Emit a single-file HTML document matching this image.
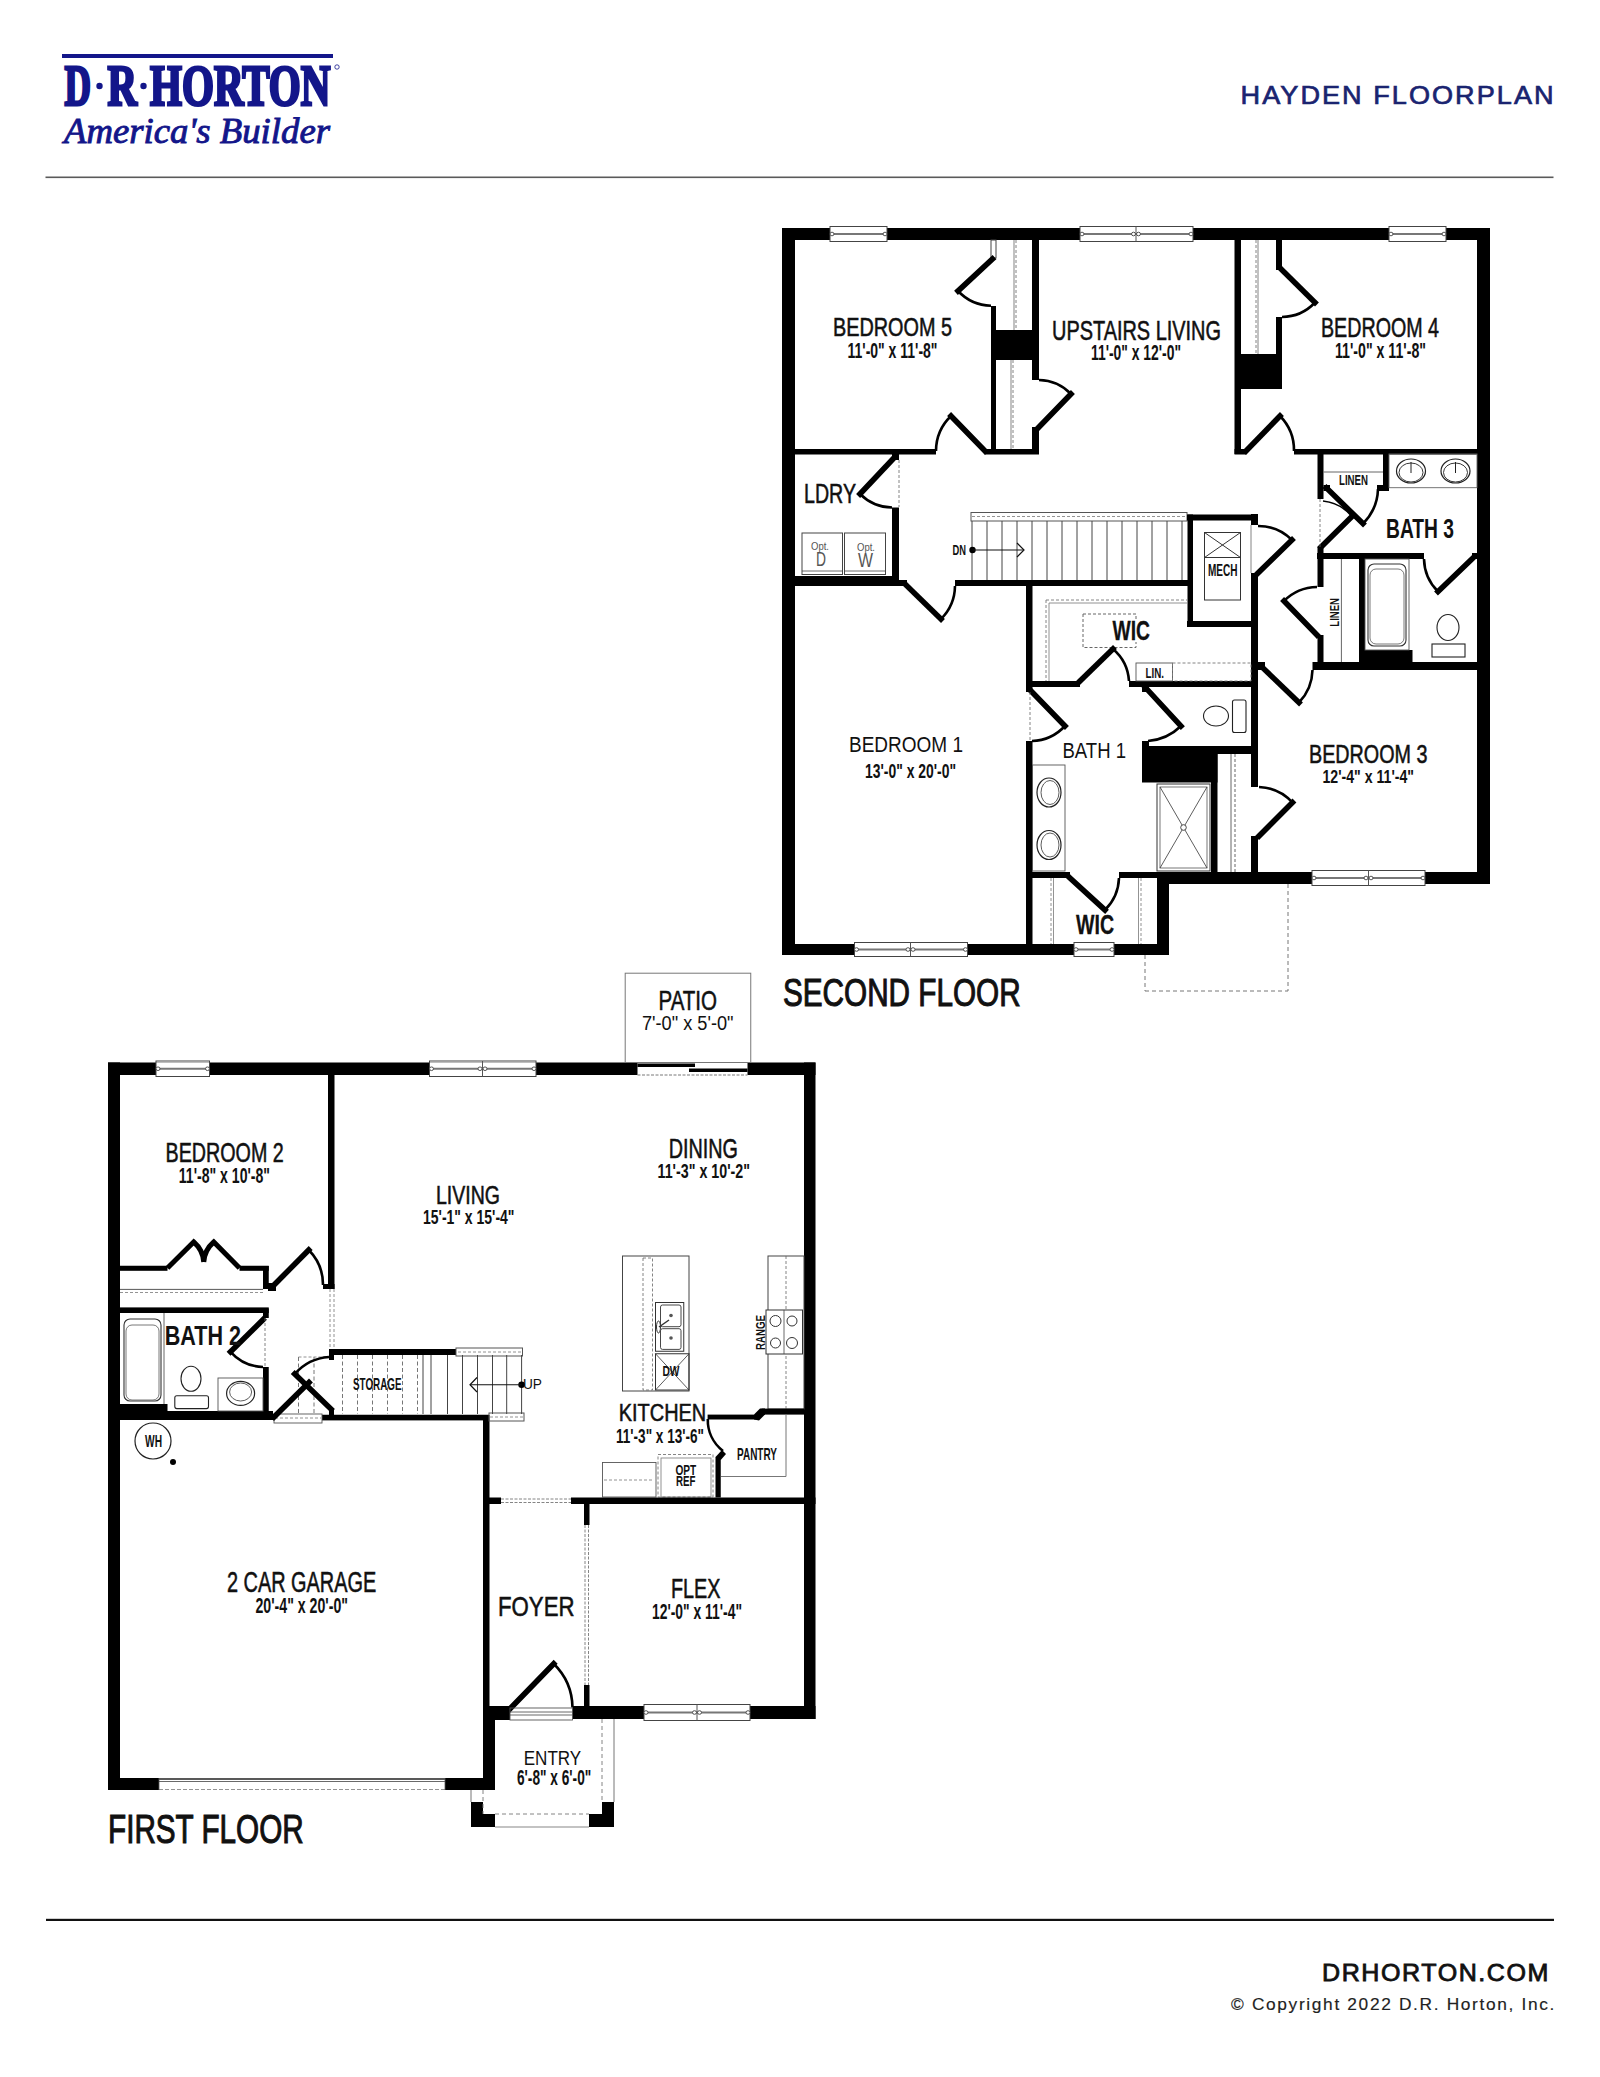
<!DOCTYPE html>
<html><head><meta charset="utf-8"><style>
html,body{margin:0;padding:0;background:#fff;}
body{width:1600px;height:2077px;overflow:hidden;position:relative;}
svg{position:absolute;left:0;top:0;}
</style></head><body>
<svg width="1600" height="2077" viewBox="0 0 1600 2077">
<rect x="0" y="0" width="1600" height="2077" fill="#fff"/>
<!-- header -->
<rect x="62" y="54" width="271" height="4" fill="#13168a"/>
<g fill="#13168a" stroke="#13168a" stroke-width="3" stroke-linejoin="miter" font-family="Liberation Serif" font-weight="bold" font-size="57">
<text x="64.5" y="105" textLength="26.5" lengthAdjust="spacingAndGlyphs">D</text>
<text x="107.5" y="105" textLength="29.5" lengthAdjust="spacingAndGlyphs">R</text>
<text x="150" y="105" textLength="180.5" lengthAdjust="spacingAndGlyphs">HORTON</text>
</g>
<circle cx="99.5" cy="86" r="3.2" fill="#13168a"/>
<circle cx="143.5" cy="86" r="3.2" fill="#13168a"/>
<circle cx="337" cy="67" r="2.2" fill="none" stroke="#13168a" stroke-width="0.8"/>
<text x="64" y="143" font-family="Liberation Serif" font-style="italic" font-size="35" fill="#13168a" stroke="#13168a" stroke-width="0.9" textLength="266" lengthAdjust="spacingAndGlyphs">America's Builder</text>
<text x="1240.6" y="103.6" font-family="Liberation Sans" font-size="26.5" fill="#1a2470" stroke="#1a2470" stroke-width="0.7" letter-spacing="2" textLength="315" lengthAdjust="spacingAndGlyphs">HAYDEN FLOORPLAN</text>
<rect x="45.5" y="176.5" width="1508" height="1.6" fill="#5a5a5a"/>
<rect x="46" y="1918.8" width="1508" height="2.2" fill="#111"/>
<text x="1322" y="1980.6" font-family="Liberation Sans" font-size="24" fill="#111" stroke="#111" stroke-width="0.8" letter-spacing="1.5" textLength="228" lengthAdjust="spacingAndGlyphs">DRHORTON.COM</text>
<text x="1231" y="2009.7" font-family="Liberation Sans" font-size="16.8" fill="#222" stroke="#222" stroke-width="0.15" letter-spacing="1.6" textLength="325" lengthAdjust="spacingAndGlyphs">© Copyright 2022 D.R. Horton, Inc.</text>
<rect x="782.00" y="228.00" width="708.00" height="12.00" fill="#000"/>
<rect x="782.00" y="228.00" width="13.00" height="727.00" fill="#000"/>
<rect x="782.00" y="944.00" width="387.00" height="11.00" fill="#000"/>
<rect x="1157.00" y="872.00" width="12.00" height="83.00" fill="#000"/>
<rect x="1157.00" y="872.00" width="333.00" height="12.00" fill="#000"/>
<rect x="1477.00" y="228.00" width="13.00" height="656.00" fill="#000"/>
<rect x="830.00" y="228.00" width="57.00" height="12.00" fill="#fff"/>
<rect x="830.00" y="226.50" width="57.00" height="15.00" fill="none" stroke="#444" stroke-width="1"/>
<line x1="832.00" y1="234.00" x2="885.00" y2="234.00" stroke="#777" stroke-width="1.8" stroke-linecap="butt"/>
<ellipse cx="832.00" cy="234.00" rx="2" ry="1.8" fill="#fff" stroke="#444" stroke-width="0.9"/>
<ellipse cx="885.00" cy="234.00" rx="2" ry="1.8" fill="#fff" stroke="#444" stroke-width="0.9"/>
<rect x="1080.00" y="228.00" width="113.00" height="12.00" fill="#fff"/>
<rect x="1080.00" y="226.50" width="113.00" height="15.00" fill="none" stroke="#444" stroke-width="1"/>
<line x1="1082.00" y1="234.00" x2="1191.00" y2="234.00" stroke="#777" stroke-width="1.8" stroke-linecap="butt"/>
<ellipse cx="1082.00" cy="234.00" rx="2" ry="1.8" fill="#fff" stroke="#444" stroke-width="0.9"/>
<ellipse cx="1191.00" cy="234.00" rx="2" ry="1.8" fill="#fff" stroke="#444" stroke-width="0.9"/>
<ellipse cx="1133.50" cy="234.00" rx="2" ry="1.8" fill="#fff" stroke="#444" stroke-width="0.9"/>
<ellipse cx="1138.50" cy="234.00" rx="2" ry="1.8" fill="#fff" stroke="#444" stroke-width="0.9"/>
<line x1="1136.00" y1="226.50" x2="1136.00" y2="241.50" stroke="#555" stroke-width="1" stroke-linecap="butt"/>
<rect x="1389.00" y="228.00" width="57.00" height="12.00" fill="#fff"/>
<rect x="1389.00" y="226.50" width="57.00" height="15.00" fill="none" stroke="#444" stroke-width="1"/>
<line x1="1391.00" y1="234.00" x2="1444.00" y2="234.00" stroke="#777" stroke-width="1.8" stroke-linecap="butt"/>
<ellipse cx="1391.00" cy="234.00" rx="2" ry="1.8" fill="#fff" stroke="#444" stroke-width="0.9"/>
<ellipse cx="1444.00" cy="234.00" rx="2" ry="1.8" fill="#fff" stroke="#444" stroke-width="0.9"/>
<rect x="854.50" y="944.00" width="113.00" height="11.00" fill="#fff"/>
<rect x="854.50" y="942.50" width="113.00" height="14.00" fill="none" stroke="#444" stroke-width="1"/>
<line x1="856.50" y1="949.50" x2="965.50" y2="949.50" stroke="#777" stroke-width="1.8" stroke-linecap="butt"/>
<ellipse cx="856.50" cy="949.50" rx="2" ry="1.8" fill="#fff" stroke="#444" stroke-width="0.9"/>
<ellipse cx="965.50" cy="949.50" rx="2" ry="1.8" fill="#fff" stroke="#444" stroke-width="0.9"/>
<ellipse cx="908.00" cy="949.50" rx="2" ry="1.8" fill="#fff" stroke="#444" stroke-width="0.9"/>
<ellipse cx="913.00" cy="949.50" rx="2" ry="1.8" fill="#fff" stroke="#444" stroke-width="0.9"/>
<line x1="910.50" y1="942.50" x2="910.50" y2="956.50" stroke="#555" stroke-width="1" stroke-linecap="butt"/>
<rect x="1074.00" y="944.00" width="40.00" height="11.00" fill="#fff"/>
<rect x="1074.00" y="942.50" width="40.00" height="14.00" fill="none" stroke="#444" stroke-width="1"/>
<line x1="1076.00" y1="949.50" x2="1112.00" y2="949.50" stroke="#777" stroke-width="1.8" stroke-linecap="butt"/>
<ellipse cx="1076.00" cy="949.50" rx="2" ry="1.8" fill="#fff" stroke="#444" stroke-width="0.9"/>
<ellipse cx="1112.00" cy="949.50" rx="2" ry="1.8" fill="#fff" stroke="#444" stroke-width="0.9"/>
<rect x="1312.00" y="872.00" width="113.00" height="12.00" fill="#fff"/>
<rect x="1312.00" y="870.50" width="113.00" height="15.00" fill="none" stroke="#444" stroke-width="1"/>
<line x1="1314.00" y1="878.00" x2="1423.00" y2="878.00" stroke="#777" stroke-width="1.8" stroke-linecap="butt"/>
<ellipse cx="1314.00" cy="878.00" rx="2" ry="1.8" fill="#fff" stroke="#444" stroke-width="0.9"/>
<ellipse cx="1423.00" cy="878.00" rx="2" ry="1.8" fill="#fff" stroke="#444" stroke-width="0.9"/>
<ellipse cx="1366.00" cy="878.00" rx="2" ry="1.8" fill="#fff" stroke="#444" stroke-width="0.9"/>
<ellipse cx="1371.00" cy="878.00" rx="2" ry="1.8" fill="#fff" stroke="#444" stroke-width="0.9"/>
<line x1="1368.50" y1="870.50" x2="1368.50" y2="885.50" stroke="#555" stroke-width="1" stroke-linecap="butt"/>
<rect x="795.00" y="449.00" width="141.00" height="5.50" fill="#000"/>
<rect x="985.00" y="449.00" width="54.00" height="5.50" fill="#000"/>
<rect x="991.00" y="306.00" width="5.00" height="148.00" fill="#000"/>
<rect x="1032.00" y="240.00" width="7.00" height="140.00" fill="#000"/>
<rect x="1032.00" y="427.00" width="7.00" height="27.00" fill="#000"/>
<rect x="991.00" y="330.00" width="48.00" height="30.00" fill="#000"/>
<rect x="991.00" y="240.00" width="5.00" height="18.00" fill="none" stroke="#444" stroke-width="1"/>
<line x1="1016.00" y1="240.00" x2="1016.00" y2="330.00" stroke="#666" stroke-width="0.8" stroke-linecap="butt" stroke-dasharray="3,2"/>
<line x1="1014.00" y1="240.00" x2="1014.00" y2="330.00" stroke="#666" stroke-width="0.8" stroke-linecap="butt"/>
<line x1="1013.00" y1="360.00" x2="1013.00" y2="449.00" stroke="#666" stroke-width="0.8" stroke-linecap="butt" stroke-dasharray="3,2"/>
<line x1="1011.00" y1="360.00" x2="1011.00" y2="449.00" stroke="#666" stroke-width="0.8" stroke-linecap="butt"/>
<line x1="992.50" y1="259.00" x2="958.00" y2="291.00" stroke="#000" stroke-width="5.5" stroke-linecap="square"/>
<path d="M958.00,291.00 A47.06,47.06 0 0 0 991.00,305.75" fill="none" stroke="#000" stroke-width="2.6"/>
<line x1="1039.00" y1="427.00" x2="1071.00" y2="394.00" stroke="#000" stroke-width="5.5" stroke-linecap="square"/>
<path d="M1071.00,394.00 A45.97,45.97 0 0 0 1039.00,380.00" fill="none" stroke="#000" stroke-width="2.6"/>
<line x1="985.00" y1="451.00" x2="951.00" y2="416.00" stroke="#000" stroke-width="5.5" stroke-linecap="square"/>
<path d="M951.00,416.00 A48.80,48.80 0 0 0 936.00,451.00" fill="none" stroke="#000" stroke-width="2.6"/>
<rect x="1234.50" y="240.00" width="6.50" height="214.00" fill="#000"/>
<rect x="1276.00" y="240.00" width="6.00" height="30.00" fill="#000"/>
<rect x="1276.00" y="317.00" width="6.00" height="72.00" fill="#000"/>
<rect x="1241.00" y="354.00" width="41.00" height="35.00" fill="#000"/>
<line x1="1256.00" y1="240.00" x2="1256.00" y2="354.00" stroke="#666" stroke-width="0.8" stroke-linecap="butt" stroke-dasharray="3,2"/>
<line x1="1258.00" y1="240.00" x2="1258.00" y2="354.00" stroke="#666" stroke-width="0.8" stroke-linecap="butt"/>
<line x1="1282.00" y1="270.00" x2="1315.00" y2="302.50" stroke="#000" stroke-width="5.5" stroke-linecap="square"/>
<path d="M1315.00,302.50 A46.32,46.32 0 0 1 1282.00,317.00" fill="none" stroke="#000" stroke-width="2.6"/>
<rect x="1234.50" y="449.00" width="11.50" height="5.50" fill="#000"/>
<rect x="1294.00" y="449.00" width="184.00" height="5.50" fill="#000"/>
<line x1="1246.00" y1="451.00" x2="1280.00" y2="416.00" stroke="#000" stroke-width="5.5" stroke-linecap="square"/>
<path d="M1280.00,416.00 A48.80,48.80 0 0 1 1294.00,451.00" fill="none" stroke="#000" stroke-width="2.6"/>
<rect x="1317.50" y="454.00" width="6.00" height="45.00" fill="#000"/>
<rect x="1323.50" y="485.00" width="6.50" height="6.00" fill="#000"/>
<rect x="1383.00" y="454.00" width="6.00" height="37.00" fill="#000"/>
<rect x="1377.00" y="485.00" width="6.00" height="6.00" fill="#000"/>
<line x1="1323.50" y1="472.00" x2="1383.00" y2="472.00" stroke="#555" stroke-width="0.9" stroke-linecap="butt"/>
<rect x="1389.00" y="454.00" width="88.00" height="33.70" fill="none" stroke="#666" stroke-width="0.9"/>
<ellipse cx="1411" cy="471" rx="14.5" ry="12" fill="none" stroke="#222" stroke-width="1.2"/>
<ellipse cx="1411" cy="472.5" rx="12" ry="9.5" fill="none" stroke="#222" stroke-width="0.9"/>
<line x1="1411.00" y1="462.00" x2="1411.00" y2="473.00" stroke="#222" stroke-width="1" stroke-linecap="butt"/>
<ellipse cx="1455.5" cy="471" rx="14.5" ry="12" fill="none" stroke="#222" stroke-width="1.2"/>
<ellipse cx="1455.5" cy="472.5" rx="12" ry="9.5" fill="none" stroke="#222" stroke-width="0.9"/>
<line x1="1455.50" y1="462.00" x2="1455.50" y2="473.00" stroke="#222" stroke-width="1" stroke-linecap="butt"/>
<line x1="1326.50" y1="488.00" x2="1363.00" y2="523.60" stroke="#000" stroke-width="5.5" stroke-linecap="square"/>
<path d="M1363.00,523.60 A50.99,50.99 0 0 0 1378.00,489.00" fill="none" stroke="#000" stroke-width="2.6"/>
<line x1="1321.00" y1="547.00" x2="1352.00" y2="516.50" stroke="#000" stroke-width="5.5" stroke-linecap="square"/>
<path d="M1352.00,516.50 A43.49,43.49 0 0 0 1323.00,501.00" fill="none" stroke="#000" stroke-width="1.6"/>
<line x1="1320.00" y1="499.00" x2="1320.00" y2="547.00" stroke="#666" stroke-width="0.8" stroke-linecap="butt" stroke-dasharray="3,2"/>
<rect x="1317.00" y="553.00" width="107.00" height="6.00" fill="#000"/>
<rect x="1472.00" y="553.00" width="6.00" height="6.00" fill="#000"/>
<line x1="1472.00" y1="559.00" x2="1438.00" y2="591.50" stroke="#000" stroke-width="5.5" stroke-linecap="square"/>
<path d="M1438.00,591.50 A47.03,47.03 0 0 1 1424.00,559.00" fill="none" stroke="#000" stroke-width="2.6"/>
<rect x="1317.50" y="547.00" width="6.00" height="40.00" fill="#000"/>
<rect x="1317.50" y="635.00" width="6.00" height="34.00" fill="#000"/>
<line x1="1317.00" y1="635.00" x2="1284.00" y2="601.00" stroke="#000" stroke-width="5.5" stroke-linecap="square"/>
<path d="M1284.00,601.00 A47.38,47.38 0 0 1 1317.00,587.00" fill="none" stroke="#000" stroke-width="2.6"/>
<rect x="1359.00" y="559.00" width="6.00" height="91.00" fill="#000"/>
<line x1="1341.40" y1="559.00" x2="1341.40" y2="662.00" stroke="#555" stroke-width="0.9" stroke-linecap="butt"/>
<rect x="1359.00" y="650.00" width="53.50" height="19.00" fill="#000"/>
<rect x="1365.00" y="559.00" width="44.00" height="91.00" fill="none" stroke="#555" stroke-width="0.9"/>
<rect x="1368" y="564" width="38" height="82" rx="6" fill="none" stroke="#333" stroke-width="1.1"/>
<rect x="1370" y="569" width="34" height="75" rx="6" fill="none" stroke="#555" stroke-width="0.8"/>
<ellipse cx="1448" cy="627.5" rx="11" ry="13" fill="none" stroke="#222" stroke-width="1.1"/>
<rect x="1432.00" y="644.00" width="33.00" height="13.00" fill="none" stroke="#222" stroke-width="1.1"/>
<rect x="1312.50" y="662.00" width="165.50" height="8.00" fill="#000"/>
<rect x="1251.00" y="662.00" width="14.00" height="8.00" fill="#000"/>
<rect x="892.00" y="454.00" width="7.00" height="6.00" fill="#000"/>
<rect x="892.00" y="507.50" width="7.00" height="78.50" fill="#000"/>
<line x1="892.00" y1="460.00" x2="860.00" y2="494.00" stroke="#000" stroke-width="5.5" stroke-linecap="square"/>
<path d="M860.00,494.00 A46.69,46.69 0 0 0 892.00,507.50" fill="none" stroke="#000" stroke-width="2.6"/>
<line x1="899.00" y1="460.00" x2="899.00" y2="507.00" stroke="#666" stroke-width="0.8" stroke-linecap="butt" stroke-dasharray="3,2"/>
<rect x="802.00" y="533.00" width="40.50" height="41.50" fill="none" stroke="#444" stroke-width="1"/>
<rect x="844.50" y="533.00" width="41.00" height="41.50" fill="none" stroke="#444" stroke-width="1"/>
<line x1="802.00" y1="571.00" x2="842.50" y2="571.00" stroke="#444" stroke-width="0.8" stroke-linecap="butt"/>
<line x1="844.50" y1="571.00" x2="885.50" y2="571.00" stroke="#444" stroke-width="0.8" stroke-linecap="butt"/>
<text x="811.00" y="550.20" font-family="Liberation Sans" font-weight="normal" font-size="11.14" fill="#555" textLength="18.00" lengthAdjust="spacingAndGlyphs">Opt.</text>
<text x="816.00" y="566.20" font-family="Liberation Sans" font-weight="normal" font-size="21.14" fill="#555" textLength="10.00" lengthAdjust="spacingAndGlyphs">D</text>
<text x="857.00" y="551.20" font-family="Liberation Sans" font-weight="normal" font-size="11.14" fill="#555" textLength="18.00" lengthAdjust="spacingAndGlyphs">Opt.</text>
<text x="858.00" y="567.20" font-family="Liberation Sans" font-weight="normal" font-size="21.14" fill="#555" textLength="15.00" lengthAdjust="spacingAndGlyphs">W</text>
<rect x="795.00" y="576.00" width="104.00" height="10.00" fill="#000"/>
<rect x="899.00" y="580.00" width="8.00" height="6.00" fill="#000"/>
<rect x="955.00" y="580.00" width="235.00" height="6.00" fill="#000"/>
<line x1="907.00" y1="586.00" x2="941.00" y2="619.00" stroke="#000" stroke-width="5.5" stroke-linecap="square"/>
<path d="M941.00,619.00 A47.38,47.38 0 0 0 955.00,586.00" fill="none" stroke="#000" stroke-width="2.6"/>
<rect x="971.00" y="512.50" width="216.00" height="8.50" fill="none" stroke="#555" stroke-width="1"/>
<line x1="972.00" y1="516.50" x2="1186.00" y2="516.50" stroke="#777" stroke-width="0.8" stroke-linecap="butt" stroke-dasharray="3,2"/>
<line x1="972.00" y1="521.00" x2="972.00" y2="580.00" stroke="#444" stroke-width="1" stroke-linecap="butt"/>
<line x1="987.00" y1="521.00" x2="987.00" y2="580.00" stroke="#444" stroke-width="1" stroke-linecap="butt"/>
<line x1="1002.00" y1="521.00" x2="1002.00" y2="580.00" stroke="#444" stroke-width="1" stroke-linecap="butt"/>
<line x1="1017.00" y1="521.00" x2="1017.00" y2="580.00" stroke="#444" stroke-width="1" stroke-linecap="butt"/>
<line x1="1032.00" y1="521.00" x2="1032.00" y2="580.00" stroke="#444" stroke-width="1" stroke-linecap="butt"/>
<line x1="1047.00" y1="521.00" x2="1047.00" y2="580.00" stroke="#444" stroke-width="1" stroke-linecap="butt"/>
<line x1="1062.00" y1="521.00" x2="1062.00" y2="580.00" stroke="#444" stroke-width="1" stroke-linecap="butt"/>
<line x1="1077.00" y1="521.00" x2="1077.00" y2="580.00" stroke="#444" stroke-width="1" stroke-linecap="butt"/>
<line x1="1092.00" y1="521.00" x2="1092.00" y2="580.00" stroke="#444" stroke-width="1" stroke-linecap="butt"/>
<line x1="1107.00" y1="521.00" x2="1107.00" y2="580.00" stroke="#444" stroke-width="1" stroke-linecap="butt"/>
<line x1="1122.00" y1="521.00" x2="1122.00" y2="580.00" stroke="#444" stroke-width="1" stroke-linecap="butt"/>
<line x1="1137.00" y1="521.00" x2="1137.00" y2="580.00" stroke="#444" stroke-width="1" stroke-linecap="butt"/>
<line x1="1152.00" y1="521.00" x2="1152.00" y2="580.00" stroke="#444" stroke-width="1" stroke-linecap="butt"/>
<line x1="1167.00" y1="521.00" x2="1167.00" y2="580.00" stroke="#444" stroke-width="1" stroke-linecap="butt"/>
<line x1="1182.00" y1="521.00" x2="1182.00" y2="580.00" stroke="#444" stroke-width="1" stroke-linecap="butt"/>
<circle cx="972.5" cy="550" r="3.2" fill="#000"/>
<line x1="972.50" y1="550.00" x2="1023.00" y2="550.00" stroke="#111" stroke-width="1.2" stroke-linecap="butt"/>
<path d="M1017,543 L1024,550 L1017,557" fill="none" stroke="#111" stroke-width="1.2"/>
<text x="952.50" y="555.20" font-family="Liberation Sans" font-weight="bold" font-size="15.43" fill="#111" textLength="13.50" lengthAdjust="spacingAndGlyphs">DN</text>
<rect x="1187.50" y="514.50" width="5.50" height="112.50" fill="#000"/>
<rect x="1187.00" y="514.50" width="71.00" height="6.00" fill="#000"/>
<rect x="1251.00" y="514.00" width="7.00" height="11.00" fill="#000"/>
<rect x="1251.00" y="573.00" width="7.00" height="214.00" fill="#000"/>
<rect x="1251.00" y="836.00" width="7.00" height="36.00" fill="#000"/>
<rect x="1187.00" y="621.00" width="71.00" height="6.00" fill="#000"/>
<rect x="1204.50" y="532.50" width="36.00" height="67.50" fill="none" stroke="#333" stroke-width="1"/>
<line x1="1204.50" y1="557.50" x2="1240.50" y2="557.50" stroke="#333" stroke-width="1" stroke-linecap="butt"/>
<line x1="1204.50" y1="532.50" x2="1240.50" y2="557.50" stroke="#333" stroke-width="1" stroke-linecap="butt"/>
<line x1="1240.50" y1="532.50" x2="1204.50" y2="557.50" stroke="#333" stroke-width="1" stroke-linecap="butt"/>
<line x1="1251.00" y1="525.00" x2="1251.00" y2="573.00" stroke="#666" stroke-width="0.8" stroke-linecap="butt"/>
<line x1="1258.00" y1="573.00" x2="1292.00" y2="540.00" stroke="#000" stroke-width="5.5" stroke-linecap="square"/>
<path d="M1292.00,540.00 A47.38,47.38 0 0 0 1258.00,526.00" fill="none" stroke="#000" stroke-width="2.6"/>
<text x="1208.00" y="576.20" font-family="Liberation Sans" font-weight="bold" font-size="16.86" fill="#111" textLength="29.50" lengthAdjust="spacingAndGlyphs">MECH</text>
<rect x="1026.00" y="580.00" width="6.50" height="112.00" fill="#000"/>
<rect x="1026.00" y="741.00" width="6.50" height="203.00" fill="#000"/>
<rect x="1026.00" y="681.00" width="54.00" height="6.00" fill="#000"/>
<rect x="1129.00" y="681.00" width="129.00" height="6.00" fill="#000"/>
<line x1="1046.00" y1="600.00" x2="1187.00" y2="600.00" stroke="#777" stroke-width="0.9" stroke-linecap="butt" stroke-dasharray="3,2"/>
<line x1="1046.00" y1="600.00" x2="1046.00" y2="681.00" stroke="#777" stroke-width="0.9" stroke-linecap="butt" stroke-dasharray="3,2"/>
<line x1="1049.00" y1="603.00" x2="1187.00" y2="603.00" stroke="#777" stroke-width="0.8" stroke-linecap="butt"/>
<line x1="1049.00" y1="603.00" x2="1049.00" y2="681.00" stroke="#777" stroke-width="0.8" stroke-linecap="butt"/>
<rect x="1083.00" y="614.00" width="53.00" height="33.50" fill="none" stroke="#666" stroke-width="1" stroke-dasharray="3,2"/>
<line x1="1080.00" y1="681.00" x2="1113.00" y2="649.00" stroke="#000" stroke-width="5.5" stroke-linecap="square"/>
<path d="M1113.00,649.00 A45.97,45.97 0 0 1 1129.00,681.00" fill="none" stroke="#000" stroke-width="2.6"/>
<rect x="1136.00" y="663.00" width="36.50" height="18.00" fill="none" stroke="#555" stroke-width="0.9"/>
<rect x="1172.50" y="663.00" width="78.50" height="18.00" fill="none" stroke="#777" stroke-width="0.9" stroke-dasharray="3,2"/>
<rect x="1110.00" y="619.00" width="42.00" height="23.00" fill="#fff"/>
<text x="1112.50" y="640.20" font-family="Liberation Sans" font-weight="bold" font-size="28.29" fill="#111" stroke="#111" stroke-width="0.3" textLength="37.50" lengthAdjust="spacingAndGlyphs">WIC</text>
<text x="1145.50" y="677.70" font-family="Liberation Sans" font-weight="bold" font-size="14.71" fill="#111" textLength="18.50" lengthAdjust="spacingAndGlyphs">LIN.</text>
<line x1="1032.00" y1="692.00" x2="1065.00" y2="726.00" stroke="#000" stroke-width="5.5" stroke-linecap="square"/>
<path d="M1065.00,726.00 A47.38,47.38 0 0 1 1032.00,741.00" fill="none" stroke="#000" stroke-width="2.6"/>
<line x1="1030.00" y1="692.00" x2="1030.00" y2="741.00" stroke="#666" stroke-width="0.8" stroke-linecap="butt" stroke-dasharray="3,2"/>
<rect x="1142.00" y="687.00" width="7.00" height="5.00" fill="#000"/>
<rect x="1142.00" y="741.00" width="7.00" height="5.00" fill="#000"/>
<line x1="1145.00" y1="687.00" x2="1181.00" y2="726.00" stroke="#000" stroke-width="5.5" stroke-linecap="square"/>
<path d="M1181.00,726.00 A53.08,53.08 0 0 1 1148.00,741.00" fill="none" stroke="#000" stroke-width="2.6"/>
<rect x="1142.00" y="746.00" width="116.00" height="8.00" fill="#000"/>
<rect x="1142.00" y="746.00" width="75.50" height="36.50" fill="#000"/>
<rect x="1211.00" y="746.00" width="6.50" height="126.00" fill="#000"/>
<rect x="1032.00" y="872.00" width="38.00" height="6.00" fill="#000"/>
<rect x="1119.00" y="872.00" width="50.00" height="6.00" fill="#000"/>
<rect x="1032.50" y="765.00" width="32.50" height="106.00" fill="none" stroke="#555" stroke-width="0.9"/>
<ellipse cx="1049" cy="792.5" rx="12" ry="14.5" fill="none" stroke="#222" stroke-width="1.2"/>
<ellipse cx="1050" cy="792.5" rx="9" ry="12" fill="none" stroke="#333" stroke-width="0.8"/>
<ellipse cx="1049" cy="845" rx="12" ry="14.5" fill="none" stroke="#222" stroke-width="1.2"/>
<ellipse cx="1050" cy="845" rx="9" ry="12" fill="none" stroke="#333" stroke-width="0.8"/>
<rect x="1157.00" y="784.00" width="53.00" height="87.00" fill="none" stroke="#333" stroke-width="1"/>
<rect x="1160.00" y="787.00" width="47.00" height="81.00" fill="none" stroke="#555" stroke-width="0.8"/>
<line x1="1160.00" y1="787.00" x2="1207.00" y2="868.00" stroke="#333" stroke-width="0.8" stroke-linecap="butt"/>
<line x1="1207.00" y1="787.00" x2="1160.00" y2="868.00" stroke="#333" stroke-width="0.8" stroke-linecap="butt"/>
<circle cx="1183.5" cy="827.5" r="2.8" fill="#fff" stroke="#333" stroke-width="0.9"/>
<ellipse cx="1216" cy="716" rx="12.5" ry="10" fill="none" stroke="#222" stroke-width="1.1"/>
<rect x="1232.5" y="700" width="13.5" height="32.5" rx="2" fill="none" stroke="#222" stroke-width="1.1"/>
<line x1="1231.00" y1="754.00" x2="1231.00" y2="872.00" stroke="#555" stroke-width="0.9" stroke-linecap="butt"/>
<line x1="1235.00" y1="754.00" x2="1235.00" y2="872.00" stroke="#555" stroke-width="0.9" stroke-linecap="butt" stroke-dasharray="3,2"/>
<line x1="1259.00" y1="836.00" x2="1292.50" y2="802.50" stroke="#000" stroke-width="5.5" stroke-linecap="square"/>
<path d="M1292.50,802.50 A47.38,47.38 0 0 0 1259.00,787.00" fill="none" stroke="#000" stroke-width="2.6"/>
<line x1="1264.00" y1="669.00" x2="1299.00" y2="702.50" stroke="#000" stroke-width="5.5" stroke-linecap="square"/>
<path d="M1299.00,702.50 A48.45,48.45 0 0 0 1312.50,670.00" fill="none" stroke="#000" stroke-width="2.6"/>
<line x1="1070.00" y1="878.00" x2="1105.00" y2="910.00" stroke="#000" stroke-width="5.5" stroke-linecap="square"/>
<path d="M1105.00,910.00 A47.42,47.42 0 0 0 1119.00,878.00" fill="none" stroke="#000" stroke-width="2.6"/>
<line x1="1051.00" y1="878.00" x2="1051.00" y2="944.00" stroke="#777" stroke-width="0.8" stroke-linecap="butt" stroke-dasharray="3,2"/>
<line x1="1053.50" y1="878.00" x2="1053.50" y2="944.00" stroke="#777" stroke-width="0.8" stroke-linecap="butt"/>
<line x1="1141.00" y1="878.00" x2="1141.00" y2="944.00" stroke="#777" stroke-width="0.8" stroke-linecap="butt" stroke-dasharray="3,2"/>
<line x1="1138.50" y1="878.00" x2="1138.50" y2="944.00" stroke="#777" stroke-width="0.8" stroke-linecap="butt"/>
<text x="1076.00" y="934.20" font-family="Liberation Sans" font-weight="bold" font-size="28.29" fill="#111" stroke="#111" stroke-width="0.3" textLength="38.00" lengthAdjust="spacingAndGlyphs">WIC</text>
<line x1="1145.00" y1="955.00" x2="1145.00" y2="991.00" stroke="#777" stroke-width="1" stroke-linecap="butt" stroke-dasharray="4,3"/>
<line x1="1145.00" y1="991.00" x2="1288.00" y2="991.00" stroke="#777" stroke-width="1" stroke-linecap="butt" stroke-dasharray="4,3"/>
<line x1="1288.00" y1="884.00" x2="1288.00" y2="991.00" stroke="#777" stroke-width="1" stroke-linecap="butt" stroke-dasharray="4,3"/>
<text x="833.00" y="336.45" font-family="Liberation Sans" font-weight="normal" font-size="25.79" fill="#111" stroke="#111" stroke-width="0.55" textLength="119.00" lengthAdjust="spacingAndGlyphs">BEDROOM 5</text>
<text x="847.50" y="357.70" font-family="Liberation Sans" font-weight="bold" font-size="22.21" fill="#111" textLength="90.00" lengthAdjust="spacingAndGlyphs">11'-0" x 11'-8"</text>
<text x="1052.00" y="339.70" font-family="Liberation Sans" font-weight="normal" font-size="26.86" fill="#111" stroke="#111" stroke-width="0.55" textLength="169.00" lengthAdjust="spacingAndGlyphs">UPSTAIRS LIVING</text>
<text x="1091.00" y="360.20" font-family="Liberation Sans" font-weight="bold" font-size="22.57" fill="#111" textLength="90.00" lengthAdjust="spacingAndGlyphs">11'-0" x 12'-0"</text>
<text x="1321.00" y="337.20" font-family="Liberation Sans" font-weight="normal" font-size="26.86" fill="#111" stroke="#111" stroke-width="0.55" textLength="118.00" lengthAdjust="spacingAndGlyphs">BEDROOM 4</text>
<text x="1335.00" y="357.70" font-family="Liberation Sans" font-weight="bold" font-size="21.86" fill="#111" textLength="91.00" lengthAdjust="spacingAndGlyphs">11'-0" x 11'-8"</text>
<text x="804.00" y="502.70" font-family="Liberation Sans" font-weight="normal" font-size="27.57" fill="#111" stroke="#111" stroke-width="0.55" textLength="52.00" lengthAdjust="spacingAndGlyphs">LDRY</text>
<text x="1386.00" y="537.90" font-family="Liberation Sans" font-weight="bold" font-size="27.14" fill="#111" textLength="68.00" lengthAdjust="spacingAndGlyphs">BATH 3</text>
<text x="1339.00" y="484.70" font-family="Liberation Sans" font-weight="bold" font-size="14.71" fill="#111" textLength="29.00" lengthAdjust="spacingAndGlyphs">LINEN</text>
<text x="0" y="0" font-family="Liberation Sans" font-weight="bold" font-size="12.5" fill="#111" textLength="28.7" lengthAdjust="spacingAndGlyphs" transform="translate(1339,626.7) rotate(-90)">LINEN</text>
<text x="849.00" y="752.00" font-family="Liberation Sans" font-weight="normal" font-size="21.43" fill="#111" textLength="114.00" lengthAdjust="spacingAndGlyphs">BEDROOM 1</text>
<text x="865.00" y="777.70" font-family="Liberation Sans" font-weight="bold" font-size="20.43" fill="#111" textLength="91.00" lengthAdjust="spacingAndGlyphs">13'-0" x 20'-0"</text>
<text x="1062.50" y="758.00" font-family="Liberation Sans" font-weight="normal" font-size="21.43" fill="#111" textLength="63.50" lengthAdjust="spacingAndGlyphs">BATH 1</text>
<text x="1309.00" y="762.70" font-family="Liberation Sans" font-weight="normal" font-size="26.14" fill="#111" stroke="#111" stroke-width="0.55" textLength="118.50" lengthAdjust="spacingAndGlyphs">BEDROOM 3</text>
<text x="1322.50" y="782.70" font-family="Liberation Sans" font-weight="bold" font-size="17.57" fill="#111" textLength="91.50" lengthAdjust="spacingAndGlyphs">12'-4" x 11'-4"</text>
<text x="783.00" y="1006.20" font-family="Liberation Sans" font-weight="normal" font-size="39.71" fill="#111" stroke="#111" stroke-width="1.1" textLength="237.60" lengthAdjust="spacingAndGlyphs">SECOND FLOOR</text>
<rect x="108.00" y="1062.50" width="707.50" height="12.50" fill="#000"/>
<rect x="108.00" y="1062.50" width="12.00" height="727.50" fill="#000"/>
<rect x="804.00" y="1062.50" width="11.50" height="656.50" fill="#000"/>
<rect x="572.50" y="1706.00" width="243.00" height="13.00" fill="#000"/>
<rect x="489.00" y="1706.00" width="21.00" height="14.00" fill="#000"/>
<rect x="483.00" y="1415.00" width="6.50" height="305.00" fill="#000"/>
<rect x="483.00" y="1720.00" width="12.00" height="70.00" fill="#000"/>
<rect x="108.00" y="1778.00" width="387.00" height="12.00" fill="#000"/>
<rect x="156.00" y="1062.50" width="53.50" height="12.50" fill="#fff"/>
<rect x="156.00" y="1061.00" width="53.50" height="15.50" fill="none" stroke="#444" stroke-width="1"/>
<line x1="158.00" y1="1068.75" x2="207.50" y2="1068.75" stroke="#777" stroke-width="1.8" stroke-linecap="butt"/>
<ellipse cx="158.00" cy="1068.75" rx="2" ry="1.8" fill="#fff" stroke="#444" stroke-width="0.9"/>
<ellipse cx="207.50" cy="1068.75" rx="2" ry="1.8" fill="#fff" stroke="#444" stroke-width="0.9"/>
<rect x="429.50" y="1062.50" width="106.50" height="12.50" fill="#fff"/>
<rect x="429.50" y="1061.00" width="106.50" height="15.50" fill="none" stroke="#444" stroke-width="1"/>
<line x1="431.50" y1="1068.75" x2="534.00" y2="1068.75" stroke="#777" stroke-width="1.8" stroke-linecap="butt"/>
<ellipse cx="431.50" cy="1068.75" rx="2" ry="1.8" fill="#fff" stroke="#444" stroke-width="0.9"/>
<ellipse cx="534.00" cy="1068.75" rx="2" ry="1.8" fill="#fff" stroke="#444" stroke-width="0.9"/>
<ellipse cx="480.00" cy="1068.75" rx="2" ry="1.8" fill="#fff" stroke="#444" stroke-width="0.9"/>
<ellipse cx="485.00" cy="1068.75" rx="2" ry="1.8" fill="#fff" stroke="#444" stroke-width="0.9"/>
<line x1="482.50" y1="1061.00" x2="482.50" y2="1076.50" stroke="#555" stroke-width="1" stroke-linecap="butt"/>
<rect x="644.00" y="1706.00" width="106.00" height="13.00" fill="#fff"/>
<rect x="644.00" y="1704.50" width="106.00" height="16.00" fill="none" stroke="#444" stroke-width="1"/>
<line x1="646.00" y1="1712.50" x2="748.00" y2="1712.50" stroke="#777" stroke-width="1.8" stroke-linecap="butt"/>
<ellipse cx="646.00" cy="1712.50" rx="2" ry="1.8" fill="#fff" stroke="#444" stroke-width="0.9"/>
<ellipse cx="748.00" cy="1712.50" rx="2" ry="1.8" fill="#fff" stroke="#444" stroke-width="0.9"/>
<ellipse cx="694.50" cy="1712.50" rx="2" ry="1.8" fill="#fff" stroke="#444" stroke-width="0.9"/>
<ellipse cx="699.50" cy="1712.50" rx="2" ry="1.8" fill="#fff" stroke="#444" stroke-width="0.9"/>
<line x1="697.00" y1="1704.50" x2="697.00" y2="1720.50" stroke="#555" stroke-width="1" stroke-linecap="butt"/>
<rect x="637.50" y="1062.50" width="110.00" height="12.50" fill="#fff"/>
<line x1="637.50" y1="1062.50" x2="747.50" y2="1062.50" stroke="#555" stroke-width="0.8" stroke-linecap="butt" stroke-dasharray="3,1.5"/>
<line x1="637.50" y1="1075.00" x2="747.50" y2="1075.00" stroke="#555" stroke-width="0.8" stroke-linecap="butt" stroke-dasharray="3,1.5"/>
<rect x="637.50" y="1063.50" width="57.50" height="3.50" fill="#000"/>
<rect x="689.00" y="1068.50" width="58.50" height="3.50" fill="#000"/>
<rect x="625.20" y="973.20" width="125.55" height="89.30" fill="none" stroke="#777" stroke-width="1"/>
<rect x="159.00" y="1778.00" width="286.00" height="12.00" fill="#fff"/>
<line x1="159.00" y1="1779.00" x2="445.00" y2="1779.00" stroke="#222" stroke-width="1.5" stroke-linecap="butt"/>
<line x1="159.00" y1="1781.50" x2="445.00" y2="1781.50" stroke="#444" stroke-width="0.8" stroke-linecap="butt"/>
<line x1="159.00" y1="1789.50" x2="445.00" y2="1789.50" stroke="#777" stroke-width="0.8" stroke-linecap="butt" stroke-dasharray="4,2"/>
<line x1="159.00" y1="1778.00" x2="159.00" y2="1790.00" stroke="#555" stroke-width="0.8" stroke-linecap="butt"/>
<line x1="445.00" y1="1778.00" x2="445.00" y2="1790.00" stroke="#555" stroke-width="0.8" stroke-linecap="butt"/>
<rect x="328.00" y="1075.00" width="6.50" height="214.00" fill="#000"/>
<rect x="323.00" y="1284.00" width="11.50" height="5.00" fill="#000"/>
<rect x="120.00" y="1265.75" width="47.50" height="5.05" fill="#000"/>
<rect x="239.50" y="1265.75" width="29.25" height="5.05" fill="#000"/>
<path d="M167.5,1268 L193.75,1242 Q203,1250 203.75,1262 M239.5,1268 L213.75,1242 Q204.5,1250 203.75,1262" fill="none" stroke="#000" stroke-width="5"/>
<rect x="263.00" y="1266.00" width="5.75" height="23.00" fill="#000"/>
<rect x="263.00" y="1308.50" width="5.75" height="9.50" fill="#000"/>
<rect x="263.00" y="1367.00" width="5.75" height="52.00" fill="#000"/>
<line x1="120.00" y1="1289.40" x2="263.00" y2="1289.40" stroke="#444" stroke-width="0.9" stroke-linecap="butt"/>
<line x1="120.00" y1="1292.50" x2="263.00" y2="1292.50" stroke="#777" stroke-width="0.8" stroke-linecap="butt" stroke-dasharray="3,2"/>
<rect x="120.00" y="1307.40" width="148.75" height="5.60" fill="#000"/>
<rect x="268.00" y="1283.00" width="8.00" height="8.00" fill="#000"/>
<line x1="274.00" y1="1285.00" x2="308.75" y2="1250.00" stroke="#000" stroke-width="5.5" stroke-linecap="square"/>
<path d="M308.75,1250.00 A49.32,49.32 0 0 1 323.00,1285.00" fill="none" stroke="#000" stroke-width="2.6"/>
<line x1="330.00" y1="1289.00" x2="330.00" y2="1349.00" stroke="#777" stroke-width="0.8" stroke-linecap="butt" stroke-dasharray="3,2"/>
<line x1="334.00" y1="1289.00" x2="334.00" y2="1349.00" stroke="#777" stroke-width="0.8" stroke-linecap="butt" stroke-dasharray="3,2"/>
<rect x="108.00" y="1411.00" width="165.00" height="9.00" fill="#000"/>
<rect x="120.00" y="1404.00" width="47.50" height="7.00" fill="#000"/>
<line x1="164.00" y1="1313.00" x2="164.00" y2="1404.00" stroke="#555" stroke-width="0.9" stroke-linecap="butt"/>
<rect x="124" y="1319" width="37" height="82" rx="6" fill="none" stroke="#333" stroke-width="1.1"/>
<rect x="126" y="1325" width="33" height="75" rx="6" fill="none" stroke="#555" stroke-width="0.8"/>
<ellipse cx="191" cy="1378.8" rx="10" ry="12.5" fill="none" stroke="#222" stroke-width="1.1"/>
<rect x="174.8" y="1395.7" width="33.7" height="12.9" rx="2" fill="none" stroke="#222" stroke-width="1.1"/>
<rect x="218.00" y="1378.00" width="45.00" height="33.00" fill="none" stroke="#555" stroke-width="0.9"/>
<ellipse cx="240.6" cy="1393.4" rx="14" ry="12" fill="none" stroke="#222" stroke-width="1.2"/>
<ellipse cx="240.6" cy="1392" rx="11" ry="9" fill="none" stroke="#333" stroke-width="0.8"/>
<line x1="263.00" y1="1319.70" x2="230.50" y2="1351.80" stroke="#000" stroke-width="5.5" stroke-linecap="square"/>
<path d="M230.50,1351.80 A45.68,45.68 0 0 0 263.00,1367.00" fill="none" stroke="#000" stroke-width="2.6"/>
<line x1="265.00" y1="1318.00" x2="265.00" y2="1367.00" stroke="#666" stroke-width="0.8" stroke-linecap="butt" stroke-dasharray="3,2"/>
<text x="164.70" y="1344.70" font-family="Liberation Sans" font-weight="bold" font-size="26.71" fill="#111" textLength="76.30" lengthAdjust="spacingAndGlyphs">BATH 2</text>
<rect x="329.00" y="1349.00" width="127.00" height="6.00" fill="#000"/>
<rect x="329.00" y="1349.00" width="5.00" height="11.00" fill="#000"/>
<rect x="329.00" y="1409.00" width="5.00" height="11.00" fill="#000"/>
<rect x="322.00" y="1414.75" width="167.00" height="5.65" fill="#000"/>
<rect x="456.00" y="1348.00" width="66.50" height="8.00" fill="none" stroke="#555" stroke-width="1"/>
<line x1="458.00" y1="1352.00" x2="521.00" y2="1352.00" stroke="#777" stroke-width="0.8" stroke-linecap="butt" stroke-dasharray="3,2"/>
<rect x="489.00" y="1413.00" width="35.00" height="8.00" fill="none" stroke="#555" stroke-width="1"/>
<line x1="490.00" y1="1417.00" x2="523.00" y2="1417.00" stroke="#777" stroke-width="0.8" stroke-linecap="butt" stroke-dasharray="3,2"/>
<rect x="274.00" y="1414.00" width="48.00" height="9.00" fill="none" stroke="#555" stroke-width="0.9"/>
<line x1="275.00" y1="1418.00" x2="321.00" y2="1418.00" stroke="#777" stroke-width="0.8" stroke-linecap="butt" stroke-dasharray="3,2"/>
<line x1="298.50" y1="1357.00" x2="298.50" y2="1414.00" stroke="#666" stroke-width="0.9" stroke-linecap="butt" stroke-dasharray="4,2.5"/>
<line x1="314.00" y1="1357.00" x2="314.00" y2="1414.00" stroke="#666" stroke-width="0.9" stroke-linecap="butt" stroke-dasharray="4,2.5"/>
<line x1="342.50" y1="1355.00" x2="342.50" y2="1414.00" stroke="#666" stroke-width="0.9" stroke-linecap="butt" stroke-dasharray="4,2.5"/>
<line x1="357.50" y1="1355.00" x2="357.50" y2="1414.00" stroke="#666" stroke-width="0.9" stroke-linecap="butt" stroke-dasharray="4,2.5"/>
<line x1="372.50" y1="1355.00" x2="372.50" y2="1414.00" stroke="#666" stroke-width="0.9" stroke-linecap="butt" stroke-dasharray="4,2.5"/>
<line x1="387.50" y1="1355.00" x2="387.50" y2="1414.00" stroke="#666" stroke-width="0.9" stroke-linecap="butt" stroke-dasharray="4,2.5"/>
<line x1="402.50" y1="1355.00" x2="402.50" y2="1414.00" stroke="#666" stroke-width="0.9" stroke-linecap="butt" stroke-dasharray="4,2.5"/>
<line x1="417.50" y1="1355.00" x2="417.50" y2="1414.00" stroke="#666" stroke-width="0.9" stroke-linecap="butt" stroke-dasharray="4,2.5"/>
<rect x="298.50" y="1357.00" width="30.50" height="57.00" fill="none" stroke="none" stroke-width="0"/>
<line x1="298.50" y1="1357.00" x2="329.00" y2="1357.00" stroke="#777" stroke-width="0.8" stroke-linecap="butt" stroke-dasharray="3,2"/>
<line x1="423.00" y1="1355.00" x2="423.00" y2="1414.00" stroke="#444" stroke-width="1" stroke-linecap="butt"/>
<line x1="431.00" y1="1355.00" x2="431.00" y2="1414.00" stroke="#444" stroke-width="1" stroke-linecap="butt"/>
<line x1="447.50" y1="1355.00" x2="447.50" y2="1414.00" stroke="#444" stroke-width="1" stroke-linecap="butt"/>
<line x1="462.50" y1="1355.00" x2="462.50" y2="1414.00" stroke="#444" stroke-width="1" stroke-linecap="butt"/>
<line x1="477.50" y1="1355.00" x2="477.50" y2="1414.00" stroke="#444" stroke-width="1" stroke-linecap="butt"/>
<line x1="492.50" y1="1355.00" x2="492.50" y2="1414.00" stroke="#444" stroke-width="1" stroke-linecap="butt"/>
<line x1="506.70" y1="1355.00" x2="506.70" y2="1414.00" stroke="#444" stroke-width="1" stroke-linecap="butt"/>
<line x1="521.60" y1="1355.00" x2="521.60" y2="1414.00" stroke="#444" stroke-width="1" stroke-linecap="butt"/>
<line x1="331.00" y1="1409.00" x2="294.70" y2="1374.00" stroke="#000" stroke-width="5.5" stroke-linecap="square"/>
<path d="M294.70,1374.00 A50.43,50.43 0 0 1 329.00,1357.00" fill="none" stroke="#000" stroke-width="2.6"/>
<line x1="274.00" y1="1417.00" x2="309.00" y2="1382.50" stroke="#000" stroke-width="5.5" stroke-linecap="square"/>
<circle cx="521.6" cy="1384.75" r="3.3" fill="#000"/>
<line x1="470.00" y1="1384.75" x2="521.60" y2="1384.75" stroke="#111" stroke-width="1.2" stroke-linecap="butt"/>
<path d="M477,1377.5 L470,1384.75 L477,1392" fill="none" stroke="#111" stroke-width="1.2"/>
<text x="523.00" y="1389.20" font-family="Liberation Sans" font-weight="normal" font-size="15.43" fill="#111" textLength="19.00" lengthAdjust="spacingAndGlyphs">UP</text>
<text x="353.00" y="1390.20" font-family="Liberation Sans" font-weight="bold" font-size="16.86" fill="#111" textLength="48.60" lengthAdjust="spacingAndGlyphs">STORAGE</text>
<rect x="622.50" y="1256.00" width="66.50" height="135.00" fill="none" stroke="#444" stroke-width="1"/>
<rect x="643.00" y="1258.00" width="9.50" height="132.00" fill="none" stroke="#666" stroke-width="0.8" stroke-dasharray="3,2"/>
<rect x="655.50" y="1302.50" width="28.25" height="48.75" fill="none" stroke="#333" stroke-width="1"/>
<rect x="660.5" y="1305" width="20.5" height="21.7" rx="2" fill="none" stroke="#333" stroke-width="0.9"/>
<rect x="660.5" y="1328.7" width="20.5" height="20.7" rx="2" fill="none" stroke="#333" stroke-width="0.9"/>
<circle cx="671" cy="1315.5" r="1.8" fill="#555"/><circle cx="671" cy="1338" r="1.8" fill="#555"/>
<line x1="659.00" y1="1327.00" x2="669.00" y2="1320.00" stroke="#333" stroke-width="1.5" stroke-linecap="butt"/>
<ellipse cx="658.5" cy="1327" rx="2" ry="6" fill="none" stroke="#333" stroke-width="1"/>
<rect x="655.50" y="1353.75" width="33.50" height="36.25" fill="none" stroke="#333" stroke-width="1"/>
<line x1="655.50" y1="1353.75" x2="689.00" y2="1390.00" stroke="#333" stroke-width="0.8" stroke-linecap="butt"/>
<line x1="689.00" y1="1353.75" x2="655.50" y2="1390.00" stroke="#333" stroke-width="0.8" stroke-linecap="butt"/>
<text x="662.50" y="1376.20" font-family="Liberation Sans" font-weight="bold" font-size="14.71" fill="#111" textLength="17.00" lengthAdjust="spacingAndGlyphs">DW</text>
<rect x="768.00" y="1256.00" width="36.00" height="153.00" fill="none" stroke="#444" stroke-width="1"/>
<line x1="786.00" y1="1256.00" x2="786.00" y2="1409.00" stroke="#666" stroke-width="0.8" stroke-linecap="butt" stroke-dasharray="3,2"/>
<rect x="766.00" y="1310.00" width="36.50" height="44.00" fill="#fff" stroke="#333" stroke-width="1"/>
<line x1="784.00" y1="1310.00" x2="784.00" y2="1354.00" stroke="#444" stroke-width="0.8" stroke-linecap="butt"/>
<circle cx="775.5" cy="1321" r="5.5" fill="none" stroke="#333" stroke-width="1"/>
<circle cx="792" cy="1321" r="5" fill="none" stroke="#333" stroke-width="1"/>
<circle cx="775.5" cy="1343" r="5" fill="none" stroke="#333" stroke-width="1"/>
<circle cx="792" cy="1343" r="5.5" fill="none" stroke="#333" stroke-width="1"/>
<text x="0" y="0" font-family="Liberation Sans" font-weight="bold" font-size="12" fill="#111" textLength="35" lengthAdjust="spacingAndGlyphs" transform="translate(765,1350) rotate(-90)">RANGE</text>
<rect x="707.60" y="1414.60" width="48.40" height="4.90" fill="#000"/>
<polygon points="754,1414.6 760,1408.6 765,1408.6 765,1414.6 759,1420.5 754,1419.5" fill="#000"/>
<rect x="761.60" y="1408.60" width="42.40" height="6.00" fill="#000"/>
<rect x="715.50" y="1457.00" width="5.25" height="40.50" fill="#000"/>
<polygon points="715.5,1457 722,1450 726,1454 720.75,1460" fill="#000"/>
<path d="M707.80,1419.00 A39.21,39.21 0 0 0 723.00,1451.00" fill="none" stroke="#000" stroke-width="2.6"/>
<line x1="721.00" y1="1476.50" x2="786.00" y2="1476.50" stroke="#777" stroke-width="1" stroke-linecap="butt"/>
<line x1="786.00" y1="1414.60" x2="786.00" y2="1476.50" stroke="#777" stroke-width="1" stroke-linecap="butt"/>
<rect x="602.50" y="1462.50" width="53.50" height="34.50" fill="none" stroke="#555" stroke-width="0.9"/>
<line x1="604.00" y1="1480.00" x2="654.00" y2="1480.00" stroke="#777" stroke-width="0.8" stroke-linecap="butt" stroke-dasharray="3,2"/>
<rect x="658.00" y="1454.50" width="55.00" height="42.50" fill="none" stroke="#777" stroke-width="0.9" stroke-dasharray="3,2"/>
<rect x="661.00" y="1458.00" width="50.00" height="39.00" fill="none" stroke="#777" stroke-width="0.8"/>
<text x="675.50" y="1474.70" font-family="Liberation Sans" font-weight="bold" font-size="15.43" fill="#111" textLength="20.75" lengthAdjust="spacingAndGlyphs">OPT</text>
<text x="676.00" y="1486.20" font-family="Liberation Sans" font-weight="bold" font-size="15.43" fill="#111" textLength="19.50" lengthAdjust="spacingAndGlyphs">REF</text>
<text x="737.00" y="1459.70" font-family="Liberation Sans" font-weight="bold" font-size="16.14" fill="#111" textLength="40.00" lengthAdjust="spacingAndGlyphs">PANTRY</text>
<rect x="489.00" y="1497.50" width="12.00" height="6.50" fill="#000"/>
<rect x="571.00" y="1497.50" width="244.50" height="6.50" fill="#000"/>
<line x1="501.00" y1="1499.00" x2="571.00" y2="1499.00" stroke="#666" stroke-width="0.8" stroke-linecap="butt" stroke-dasharray="3,1.5"/>
<line x1="501.00" y1="1502.50" x2="571.00" y2="1502.50" stroke="#666" stroke-width="0.8" stroke-linecap="butt" stroke-dasharray="3,1.5"/>
<rect x="584.00" y="1504.00" width="5.50" height="21.00" fill="#000"/>
<rect x="584.00" y="1685.00" width="5.50" height="21.00" fill="#000"/>
<line x1="585.00" y1="1525.00" x2="585.00" y2="1685.00" stroke="#666" stroke-width="0.8" stroke-linecap="butt" stroke-dasharray="3,1.5"/>
<line x1="588.50" y1="1525.00" x2="588.50" y2="1685.00" stroke="#666" stroke-width="0.8" stroke-linecap="butt" stroke-dasharray="3,1.5"/>
<line x1="510.00" y1="1708.75" x2="553.75" y2="1663.75" stroke="#000" stroke-width="5.5" stroke-linecap="square"/>
<path d="M553.75,1663.75 A62.76,62.76 0 0 1 572.50,1707.50" fill="none" stroke="#000" stroke-width="2.6"/>
<rect x="510.00" y="1708.00" width="62.50" height="12.00" fill="none" stroke="#555" stroke-width="0.9"/>
<line x1="510.00" y1="1712.00" x2="572.50" y2="1712.00" stroke="#444" stroke-width="0.8" stroke-linecap="butt"/>
<line x1="510.00" y1="1715.00" x2="572.50" y2="1715.00" stroke="#444" stroke-width="0.8" stroke-linecap="butt"/>
<line x1="471.00" y1="1790.00" x2="471.00" y2="1802.00" stroke="#777" stroke-width="1" stroke-linecap="butt"/>
<line x1="614.00" y1="1719.00" x2="614.00" y2="1802.00" stroke="#777" stroke-width="1" stroke-linecap="butt"/>
<line x1="495.00" y1="1827.00" x2="589.00" y2="1827.00" stroke="#888" stroke-width="1.2" stroke-linecap="butt"/>
<rect x="471.00" y="1802.00" width="12.00" height="25.00" fill="#000"/>
<rect x="471.00" y="1814.00" width="24.00" height="13.00" fill="#000"/>
<rect x="602.00" y="1802.00" width="12.00" height="25.00" fill="#000"/>
<rect x="589.00" y="1814.00" width="25.00" height="13.00" fill="#000"/>
<line x1="483.00" y1="1790.00" x2="483.00" y2="1814.00" stroke="#777" stroke-width="0.9" stroke-linecap="butt" stroke-dasharray="4,3"/>
<line x1="495.00" y1="1814.00" x2="589.00" y2="1814.00" stroke="#777" stroke-width="0.9" stroke-linecap="butt" stroke-dasharray="4,3"/>
<line x1="602.00" y1="1719.00" x2="602.00" y2="1802.00" stroke="#777" stroke-width="0.9" stroke-linecap="butt" stroke-dasharray="4,3"/>
<circle cx="153" cy="1441" r="18" fill="none" stroke="#222" stroke-width="1.2"/>
<circle cx="173" cy="1462" r="3" fill="#000"/>
<text x="145.00" y="1447.20" font-family="Liberation Sans" font-weight="bold" font-size="16.14" fill="#111" textLength="17.00" lengthAdjust="spacingAndGlyphs">WH</text>
<text x="658.50" y="1010.20" font-family="Liberation Sans" font-weight="normal" font-size="28.29" fill="#111" stroke="#111" stroke-width="0.55" textLength="58.50" lengthAdjust="spacingAndGlyphs">PATIO</text>
<text x="642.00" y="1029.95" font-family="Liberation Sans" font-weight="normal" font-size="20.79" fill="#111" textLength="91.50" lengthAdjust="spacingAndGlyphs">7'-0" x 5'-0"</text>
<text x="165.50" y="1162.20" font-family="Liberation Sans" font-weight="normal" font-size="26.86" fill="#111" stroke="#111" stroke-width="0.55" textLength="118.25" lengthAdjust="spacingAndGlyphs">BEDROOM 2</text>
<text x="178.75" y="1182.70" font-family="Liberation Sans" font-weight="bold" font-size="22.21" fill="#111" textLength="91.25" lengthAdjust="spacingAndGlyphs">11'-8" x 10'-8"</text>
<text x="436.00" y="1203.95" font-family="Liberation Sans" font-weight="normal" font-size="25.79" fill="#111" stroke="#111" stroke-width="0.55" textLength="64.00" lengthAdjust="spacingAndGlyphs">LIVING</text>
<text x="423.00" y="1223.95" font-family="Liberation Sans" font-weight="bold" font-size="20.79" fill="#111" textLength="91.50" lengthAdjust="spacingAndGlyphs">15'-1" x 15'-4"</text>
<text x="668.75" y="1157.70" font-family="Liberation Sans" font-weight="normal" font-size="27.57" fill="#111" stroke="#111" stroke-width="0.55" textLength="69.25" lengthAdjust="spacingAndGlyphs">DINING</text>
<text x="657.50" y="1177.70" font-family="Liberation Sans" font-weight="bold" font-size="20.43" fill="#111" textLength="92.50" lengthAdjust="spacingAndGlyphs">11'-3" x 10'-2"</text>
<text x="618.75" y="1421.45" font-family="Liberation Sans" font-weight="normal" font-size="24.36" fill="#111" stroke="#111" stroke-width="0.55" textLength="87.50" lengthAdjust="spacingAndGlyphs">KITCHEN</text>
<text x="616.00" y="1442.70" font-family="Liberation Sans" font-weight="bold" font-size="20.43" fill="#111" textLength="88.00" lengthAdjust="spacingAndGlyphs">11'-3" x 13'-6"</text>
<text x="498.00" y="1615.70" font-family="Liberation Sans" font-weight="normal" font-size="28.29" fill="#111" stroke="#111" stroke-width="0.55" textLength="76.50" lengthAdjust="spacingAndGlyphs">FOYER</text>
<text x="671.00" y="1598.20" font-family="Liberation Sans" font-weight="normal" font-size="27.57" fill="#111" stroke="#111" stroke-width="0.55" textLength="49.50" lengthAdjust="spacingAndGlyphs">FLEX</text>
<text x="652.00" y="1618.95" font-family="Liberation Sans" font-weight="bold" font-size="22.21" fill="#111" textLength="90.00" lengthAdjust="spacingAndGlyphs">12'-0" x 11'-4"</text>
<text x="523.75" y="1765.00" font-family="Liberation Sans" font-weight="normal" font-size="19.64" fill="#111" textLength="57.50" lengthAdjust="spacingAndGlyphs">ENTRY</text>
<text x="517.00" y="1785.20" font-family="Liberation Sans" font-weight="bold" font-size="22.21" fill="#111" textLength="74.25" lengthAdjust="spacingAndGlyphs">6'-8" x 6'-0"</text>
<text x="227.00" y="1592.20" font-family="Liberation Sans" font-weight="normal" font-size="28.64" fill="#111" stroke="#111" stroke-width="0.55" textLength="149.25" lengthAdjust="spacingAndGlyphs">2 CAR GARAGE</text>
<text x="255.50" y="1612.70" font-family="Liberation Sans" font-weight="bold" font-size="22.21" fill="#111" textLength="92.50" lengthAdjust="spacingAndGlyphs">20'-4" x 20'-0"</text>
<text x="108.00" y="1842.70" font-family="Liberation Sans" font-weight="normal" font-size="41.14" fill="#111" stroke="#111" stroke-width="1.1" textLength="195.70" lengthAdjust="spacingAndGlyphs">FIRST FLOOR</text>
</svg>
</body></html>
